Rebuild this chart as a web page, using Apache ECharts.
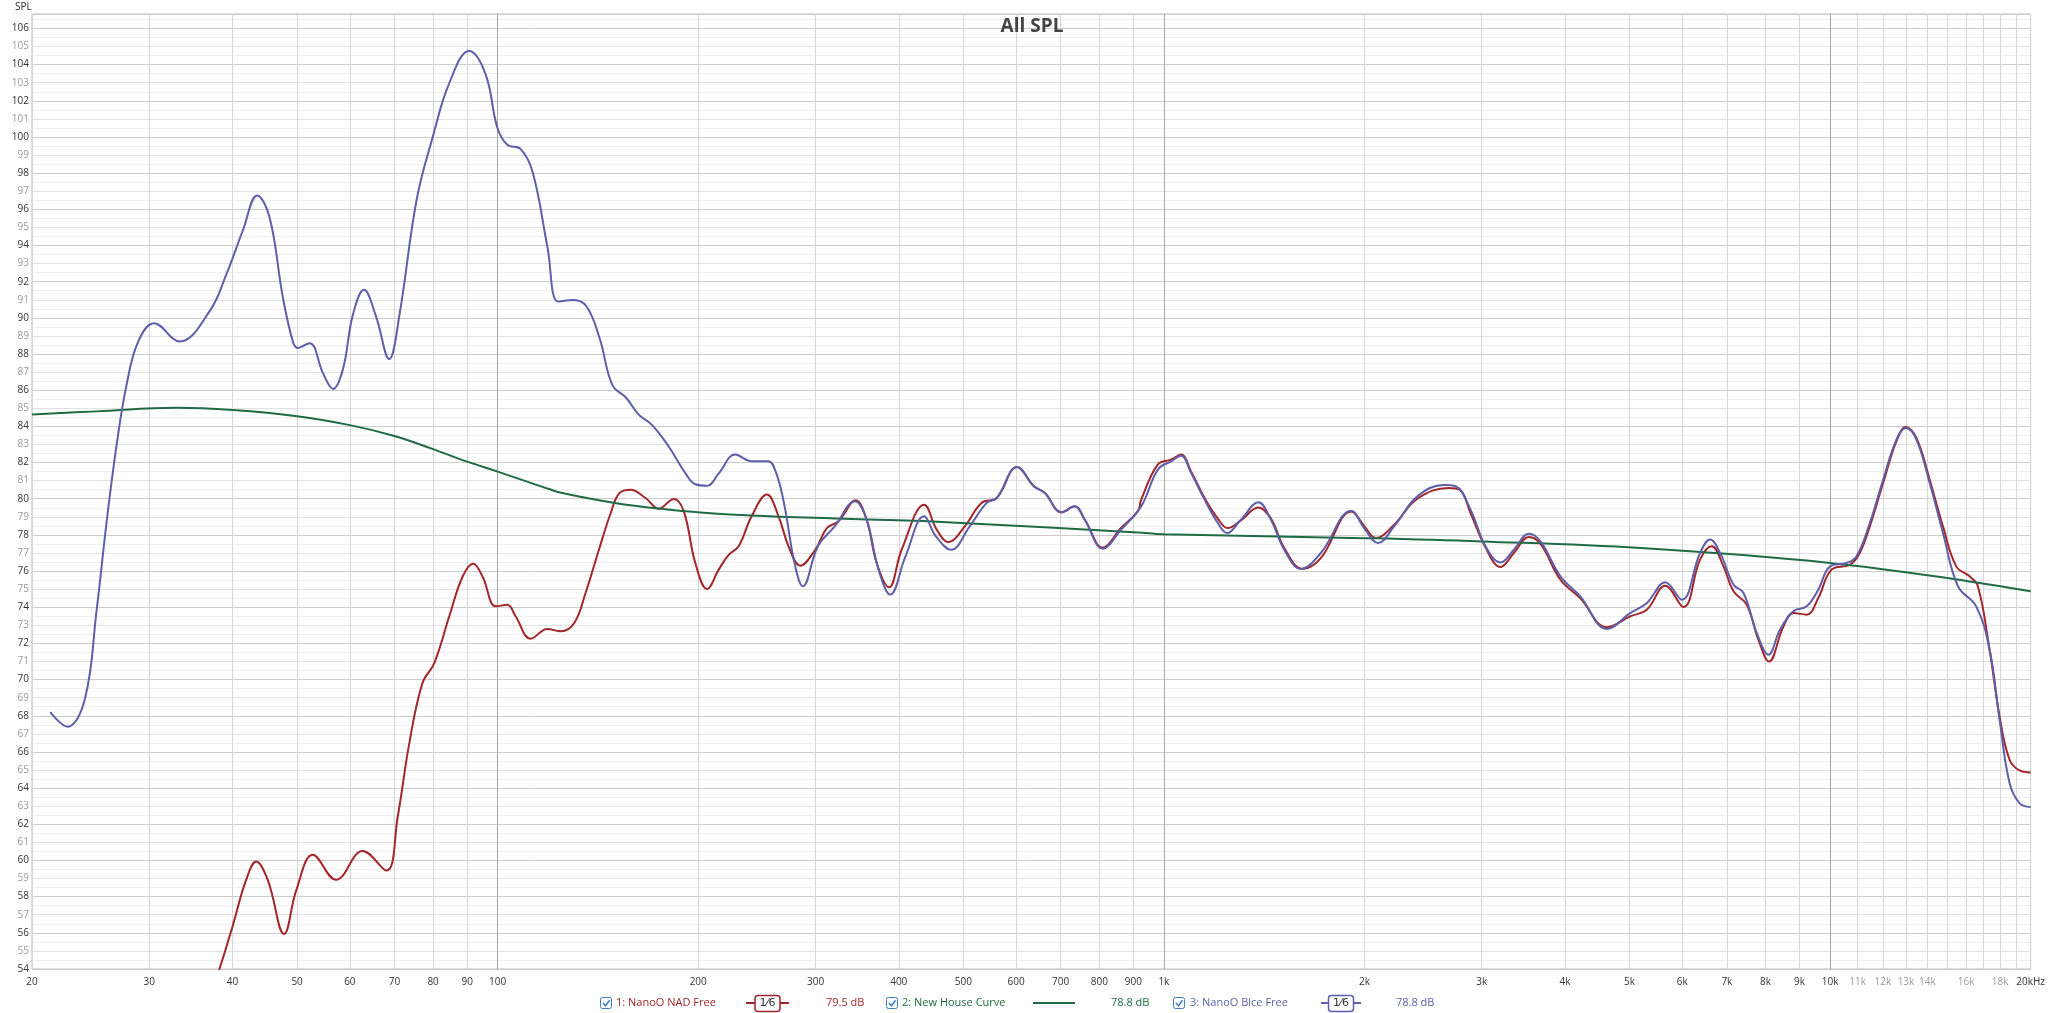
<!DOCTYPE html>
<html><head><meta charset="utf-8">
<script src="https://cdn.jsdelivr.net/npm/echarts@6/dist/echarts.min.js"></script>
<style>html,body{margin:0;padding:0;background:#fff}#c{width:2048px;height:1013px}</style>
</head><body><div id="c"></div>
<script>
// ---- axis ticks ----
const gridFreqs = [20,30,40,50,60,70,80,90,100,200,300,400,500,600,700,800,900,1000,2000,3000,4000,5000,6000,7000,8000,9000,10000,11000,12000,13000,14000,15000,16000,17000,18000,19000,20000];
const decadeFreqs = [100,1000,10000];
const labelFreqs = [20,30,40,50,60,70,80,90,100,200,300,400,500,600,700,800,900,1000,2000,3000,4000,5000,6000,7000,8000,9000,10000,11000,12000,13000,14000,16000,18000,20000];
const greyLabelFreqs = [11000,12000,13000,14000,16000,18000];

// ---- series: [frequency Hz, SPL dB] ----
const nadFree = [[36,51],[38.2,53.95],[40,56.35],[41.9,58.9],[43.4,59.94],[45.2,58.9],[47.8,55.94],[49.9,58.4],[52.8,60.31],[57.2,58.93],[62.7,60.53],[68.1,59.44],[70.8,62.43],[73.7,66.5],[77.1,69.8],[80.3,70.9],[84.6,73.5],[88.6,75.7],[91.9,76.41],[94.9,75.7],[99.4,74.05],[103.4,74.14],[106.4,73.5],[112.1,72.26],[118.7,72.8],[124.4,72.67],[130.3,73.13],[135.5,74.79],[141.9,77.18],[147.8,79.21],[152.2,80.3],[158.3,80.5],[166.7,80.04],[174.5,79.45],[183.8,79.99],[190.3,79.3],[198,76.45],[206.2,75.01],[214.7,76.08],[222.2,76.9],[230,77.37],[240.5,79.03],[253.6,80.23],[264,79.03],[273.3,77.37],[284.6,76.3],[299.7,77.18],[312,78.38],[324.8,78.75],[344.7,79.91],[358,78.84],[370.6,76.45],[386.8,75.1],[404,77.18],[436.9,79.67],[455.9,78.3],[474.7,77.6],[502.6,78.47],[532.4,79.77],[561,80.04],[602,81.76],[638,80.69],[663,80.32],[702,79.25],[735,79.58],[761,78.84],[810,77.3],[863,78.4],[914,79.3],[924.7,79.95],[979,81.89],[1025,82.16],[1061,82.44],[1099,81.5],[1151,80.04],[1205,78.9],[1246,78.38],[1305,78.8],[1386,79.52],[1448,78.9],[1516,77.28],[1615,76.12],[1720,76.72],[1912,79.3],[1998,78.5],[2080,77.83],[2216,78.56],[2402,80.0],[2678,80.6],[2780,80.5],[2886,79.21],[3040,77.3],[3201,76.23],[3352,77.0],[3530,77.89],[3676,77.5],[3938,75.52],[4218,74.5],[4624,72.9],[5012,73.5],[5310,73.87],[5657,75.19],[6026,74.01],[6380,76.63],[6644,77.37],[6918,76.26],[7163,74.88],[7498,74.14],[7806,72.2],[8096,71.0],[8510,72.94],[8810,73.68],[9222,73.59],[9600,74.51],[10050,76.08],[10706,76.35],[11080,77.0],[11472,78.47],[12012,80.87],[12578,83.18],[12988,83.97],[13478,83.36],[14110,81.05],[14773,78.47],[15466,76.26],[16194,75.71],[16670,75.16],[17356,71.65],[17966,67.96],[18595,65.57],[19246,64.98],[20000,64.87]];

const houseCurve = [[20,84.66],[25,84.83],[33,85.03],[40,84.9],[50,84.56],[60,84.07],[70,83.47],[80,82.74],[90,82.05],[100,81.5],[120,80.51],[125,80.32],[150,79.77],[180,79.4],[200,79.25],[240,79.07],[340,78.88],[480,78.69],[914,78.14],[1000,78.04],[2000,77.82],[3000,77.64],[5200,77.27],[10000,76.45],[16200,75.43],[20000,74.88]];

const blceFree = [[21.3,68.2],[22.6,67.4],[24.0,68.9],[25.0,73.8],[25.9,78.8],[26.8,83.0],[27.7,86.2],[28.85,88.66],[30.5,89.7],[33.3,88.7],[37.0,90.4],[39.15,92.4],[41.45,94.83],[43.56,96.76],[45.45,95.57],[47.6,91.13],[49.3,88.66],[50.1,88.34],[52.2,88.6],[54.7,86.93],[56.6,86.07],[58.6,87.18],[60.6,90.14],[63.0,91.55],[65.6,90.14],[68.75,87.72],[71.2,90.14],[75.6,96.56],[79.9,100.0],[84.6,102.98],[90.6,104.76],[95.9,103.48],[99.9,100.51],[103.4,99.57],[108.3,99.33],[112.9,98.04],[118.8,93.9],[123.3,90.9],[130,90.99],[136,90.63],[142.4,88.82],[148.6,86.3],[156,85.57],[162.8,84.65],[170.3,84.1],[180.5,82.9],[191.4,81.4],[198,80.8],[206.2,80.72],[214.7,81.4],[227.2,82.44],[240.5,82.07],[254.7,82.07],[262,81.4],[269.6,79.58],[279,76.45],[287.2,75.16],[302.5,77.37],[320.6,78.47],[343.8,79.86],[358,78.84],[373,76.08],[388.4,74.7],[409.4,76.81],[436.6,79.03],[454.8,77.92],[479.4,77.18],[511.2,78.47],[542,79.77],[561.4,80.04],[602,81.76],[638.4,80.69],[662.6,80.32],[701.6,79.25],[734.8,79.58],[760.6,78.84],[810,77.24],[862.8,78.3],[924.7,79.58],[979.4,81.61],[1025,82.07],[1061,82.38],[1099,81.42],[1151,79.95],[1205,78.66],[1244,78.1],[1305,78.84],[1386,79.8],[1448,78.84],[1516,77.18],[1605,76.12],[1720,77.0],[1912,79.34],[1998,78.38],[2096,77.55],[2216,78.47],[2402,80.13],[2634,80.76],[2741,80.69],[2886,79.4],[3040,77.37],[3201,76.48],[3352,77.18],[3530,78.07],[3676,77.64],[3938,75.71],[4218,74.6],[4624,72.8],[5012,73.68],[5310,74.24],[5657,75.38],[5991,74.42],[6380,77.0],[6606,77.74],[6839,77.0],[7163,75.25],[7415,74.79],[7761,72.58],[8081,71.38],[8410,72.76],[8810,73.78],[9222,74.05],[9600,74.97],[10000,76.26],[10585,76.45],[10956,76.81],[11472,78.66],[12012,81.05],[12578,83.27],[12988,83.91],[13478,83.27],[14110,80.87],[14773,78.1],[15558,75.16],[16570,74.05],[17356,71.65],[17966,67.78],[18595,64.28],[19246,63.17],[20000,62.95]];

const seriesNames = ['1: NanoO NAD Free','2: New House Curve','3: NanoO Blce Free'];
const seriesLevels = ['79.5 dB','78.8 dB','78.8 dB'];

const RED = '#a3262b', GREEN = '#1f6b45', PURPLE = '#5d5fab';
const FONT = '"Open Sans","Noto Sans",sans-serif';

function fmtFreq(v){
  v = Math.round(v);
  let s;
  if (v === 20000) s = '20kHz';
  else if (v >= 1000) s = (v/1000) + 'k';
  else s = String(v);
  return greyLabelFreqs.indexOf(v) >= 0 ? '{g|' + s + '}' : '{d|' + s + '}';
}
function labelEven(v){
  const n = Math.round(v);
  return (Math.abs(v-n) < 1e-6 && n % 2 === 0) ? String(n) : '';
}
function labelOdd(v){
  const n = Math.round(v);
  return (Math.abs(v-n) < 1e-6 && n % 2 !== 0) ? String(n) : '';
}

const chart = echarts.init(document.getElementById('c'), null, {renderer:'canvas'});

function logX(extra){
  return Object.assign({
    type:'log', logBase:10, min:20, max:20000, gridIndex:0, position:'bottom',
    axisLine:{show:false}, axisTick:{show:false},
  }, extra);
}
function valY(extra){
  return Object.assign({
    type:'value', min:54, max:106.8, gridIndex:0, position:'left',
    axisLine:{show:false}, axisTick:{show:false}, axisLabel:{show:false}
  }, extra);
}

// legend graphics
function checkbox(x){
  return [
    {type:'rect', shape:{x:x+0.5, y:997.5, width:11, height:11, r:2}, style:{fill:'#fff', stroke:'#3d7cc9', lineWidth:1}, z:100},
    {type:'polyline', shape:{points:[[x+3,1003],[x+5.5,1005.8],[x+9.5,1000.2]]}, style:{stroke:'#3d7cc9', lineWidth:1.5, fill:null}, z:101}
  ];
}
function txt(x, s, color, extra){
  return Object.assign({type:'text', x:x, y:1003, z:100, style:{text:s, fill:color, fontSize:11, fontFamily:FONT, verticalAlign:'middle'}}, extra||{});
}
function fracSymbol(x0, x1, color){
  const cx = (x0+x1)/2;
  return [
    {type:'line', shape:{x1:x0, y1:1003, x2:x1, y2:1003}, style:{stroke:color, lineWidth:2}, z:100},
    {type:'rect', shape:{x:cx-12.5, y:995.5, width:25, height:16, r:3}, style:{fill:'#fff', stroke:color, lineWidth:1.5}, z:101},
    {type:'text', x:cx, y:1003.5, z:102, style:{text:'1⁄6', fill:'#333', fontSize:11, fontFamily:'"DejaVu Sans",sans-serif', align:'center', verticalAlign:'middle'}}
  ];
}

const graphics = [].concat(
  [{type:'text', x:1032, y:27, z:100, style:{text:'All SPL', fill:'#444', fontSize:19, fontWeight:'bold', fontFamily:FONT, align:'center', verticalAlign:'middle'}}],
  [{type:'text', x:15, y:7, z:100, style:{text:'SPL', fill:'#333', fontSize:10, fontFamily:FONT, verticalAlign:'middle'}}],
  checkbox(600), [txt(616, seriesNames[0], RED)], fracSymbol(746, 789, RED), [txt(826, seriesLevels[0], RED)],
  checkbox(886), [txt(902, seriesNames[1], GREEN)],
  [{type:'line', shape:{x1:1033, y1:1003, x2:1075, y2:1003}, style:{stroke:GREEN, lineWidth:2}, z:100}],
  [txt(1111, seriesLevels[1], GREEN)],
  checkbox(1173), [txt(1190, seriesNames[2], PURPLE)], fracSymbol(1321, 1361, PURPLE), [txt(1396, seriesLevels[2], PURPLE)]
);

const option = {
  animation:false,
  backgroundColor:'#fff',
  grid:{left:32, right:16, top:14, bottom:44, show:true, borderColor:'#bdbdbd', borderWidth:1, backgroundColor:'#fff'},
  xAxis:[
    logX({
      axisTick:{show:false, customValues:gridFreqs},
      splitLine:{show:true, lineStyle:{color:'#d6d6d6', width:1}},
      axisLabel:{show:true, customValues:labelFreqs, formatter:fmtFreq, margin:8,
        rich:{d:{color:'#333', fontSize:10, fontFamily:FONT}, g:{color:'#9a9a9a', fontSize:10, fontFamily:FONT}}}
    }),
    logX({
      axisTick:{show:false, customValues:decadeFreqs},
      splitLine:{show:true, lineStyle:{color:'#a6a6a6', width:1}},
      axisLabel:{show:false}
    })
  ],
  yAxis:[
    valY({interval:0.5, splitLine:{show:true, lineStyle:{color:'#efefef'}}}),
    valY({interval:1, splitLine:{show:true, lineStyle:{color:'#e2e2e2'}},
      axisLabel:{show:true, formatter:labelOdd, margin:3, color:'#9a9a9a', fontSize:10, fontFamily:FONT}}),
    valY({interval:2, splitLine:{show:true, lineStyle:{color:'#cdcdcd'}},
      axisLabel:{show:true, formatter:labelEven, margin:3, color:'#333', fontSize:10, fontFamily:FONT}})
  ],
  series:[
    {name:seriesNames[0], type:'line', xAxisIndex:0, yAxisIndex:0, data:nadFree, showSymbol:false, smooth:0.4, clip:true,
      lineStyle:{color:RED, width:2}, itemStyle:{color:RED}, z:3},
    {name:seriesNames[1], type:'line', xAxisIndex:0, yAxisIndex:0, data:houseCurve, showSymbol:false, smooth:0.4, clip:true,
      lineStyle:{color:GREEN, width:2}, itemStyle:{color:GREEN}, z:4},
    {name:seriesNames[2], type:'line', xAxisIndex:0, yAxisIndex:0, data:blceFree, showSymbol:false, smooth:0.4, clip:true,
      lineStyle:{color:PURPLE, width:2}, itemStyle:{color:PURPLE}, z:5}
  ],
  graphic:graphics
};
chart.setOption(option);
</script></body></html>
